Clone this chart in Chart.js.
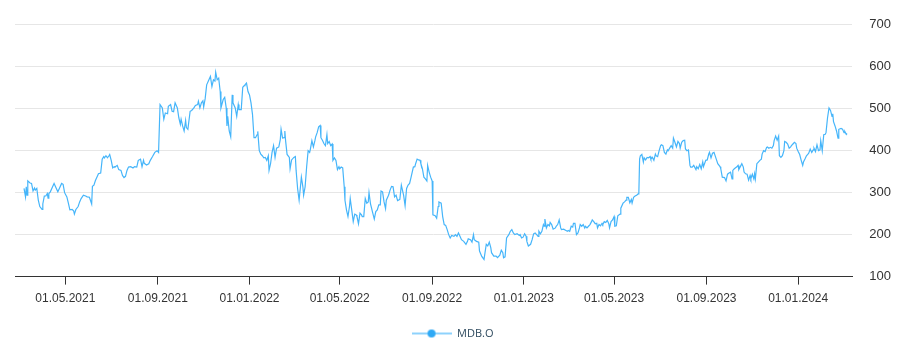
<!DOCTYPE html>
<html>
<head>
<meta charset="utf-8">
<script src="https://cdn.jsdelivr.net/npm/chart.js@4/dist/chart.umd.min.js"></script>
<style>
  html, body { margin: 0; padding: 0; background: #fff; }
  #wrap { width: 912px; height: 352px; }
</style>
</head>
<body>
<div id="wrap"><canvas id="myChart"></canvas></div>
<script>
// MDB.O price, x = days since 01.01.2021
const seriesName = 'MDB.O';

const days = [
  65, 67, 68, 69, 70, 73, 75, 77, 79, 80, 82, 84, 86, 89, 90, 92, 94, 96, 97, 98,
  100, 103, 105, 108, 110, 112, 115, 117, 119, 122, 124, 126, 129, 131, 132, 134, 137, 139, 141, 144,
  147, 149, 152, 155, 156, 158, 160, 163, 164, 167, 169, 171, 172, 174, 176, 178, 179, 181, 183, 185,
  186, 189, 191, 194, 196, 198, 200, 202, 204, 207, 210, 212, 215, 217, 218, 220, 222, 224, 225, 228,
  231, 233, 236, 239,
  242, 244, 246, 249, 251, 253, 256, 257, 260, 262, 264, 266, 269, 271, 273, 274, 276, 278, 280, 281,
  283, 286, 288, 291, 293, 296, 297, 299, 301, 303, 304, 306, 308, 311, 313, 315, 317, 319, 320, 322,
  324, 326, 327, 330, 332, 334, 335, 336, 338, 340, 342, 343, 346, 348, 350, 351, 354, 356, 358, 359,
  361, 363, 365, 367, 369, 371, 373, 375, 376, 378, 380, 382, 384, 386, 388, 390, 391, 393, 395, 397,
  399, 401, 404, 406, 407, 409, 411, 412, 413, 415, 418, 419, 421, 424,
  426, 427, 429, 431, 434, 436, 437, 439, 441, 443, 445, 446, 448, 450, 452, 453, 455, 457, 459, 460,
  462, 464, 466, 468, 469, 471, 473, 475, 476, 478, 480, 482, 484, 485, 487, 489, 491, 492, 494, 496,
  498, 499, 501, 503, 505, 507, 508, 510, 512, 514, 515, 517, 519, 521, 523, 524, 526, 529, 531, 533,
  535, 537, 539, 540, 542, 544, 546, 547, 550, 552, 554, 556, 558, 560, 562, 563, 565, 567, 569, 570,
  572, 574, 576, 578, 580, 583, 585, 586, 588, 590, 592, 593, 595, 597, 599, 601, 602, 604, 606, 608,
  609,
  612, 614, 616, 617, 620, 622, 624, 626, 628, 630, 632, 634, 637, 639, 641, 643, 645, 647, 650, 653,
  655, 656, 659, 661, 663, 664, 667, 670, 671, 674, 677, 678, 680, 682, 684, 686, 687, 690, 693, 695,
  698, 700, 702, 703, 705, 707, 710, 712, 714, 716, 718, 721, 724, 725, 727, 729, 731, 733, 734, 736,
  739, 741, 743, 745, 747, 749, 750, 752, 754, 756, 757, 758, 760, 762, 764, 765, 767, 769, 772, 773,
  775, 777, 779, 780, 783, 786, 788, 789, 791, 793, 795, 796,
  798, 800, 802, 804, 805, 807, 809, 811, 812, 814, 816, 818, 820, 821, 823, 825, 827, 828, 830, 832,
  834, 835, 837, 839, 841, 843, 844, 846, 848, 850, 851, 853, 855, 858, 859, 862, 864, 866, 867, 869,
  871, 873, 874, 876, 878, 880, 882, 883, 884, 885, 887, 889, 890, 892, 894, 896, 898, 899, 901, 903,
  905, 906, 908, 910, 912, 913, 915, 917, 919, 921, 922, 924, 926, 928, 929, 931, 933, 935, 937, 938,
  940, 942, 944, 945, 947, 949, 951, 952, 954, 956, 959, 960, 962, 964, 966, 968, 969, 972, 974, 976,
  977, 979, 981, 983,
  984, 986, 988, 991, 992, 994, 997, 999, 1001, 1003, 1005, 1007, 1008, 1010, 1013, 1015, 1016, 1018, 1020, 1022,
  1023, 1025, 1027, 1029, 1031, 1032, 1034, 1036, 1037, 1038, 1040, 1042, 1044, 1046, 1047, 1049, 1051, 1053, 1054, 1056,
  1058, 1060, 1062, 1063, 1065, 1067, 1069, 1070, 1072, 1074, 1076, 1077, 1079, 1081, 1083, 1085, 1086, 1088, 1090, 1092,
  1093, 1095, 1097, 1099, 1101, 1102, 1104, 1106, 1108, 1109, 1111, 1113, 1115, 1116, 1118, 1120, 1122, 1124, 1125, 1127,
  1129, 1131, 1132, 1134, 1136, 1138, 1140, 1141, 1142, 1144, 1146, 1148, 1149, 1152, 1154, 1156, 1157, 1159, 1160
];

const prices = [
  310, 290, 314, 294, 328, 323, 322, 304, 311, 306, 310, 282, 267, 260, 273, 292, 292, 298, 287, 298,
  302, 314, 322, 310, 302, 310, 322, 320, 300, 290, 275, 259, 260, 257, 249, 260, 267, 278, 286, 294,
  292, 290, 289, 273, 315, 318, 329, 341, 345, 347, 380, 386, 383, 388, 383, 388, 391, 377, 359, 362,
  361, 365, 355, 353, 341, 336, 339, 353, 361, 362, 359, 362, 361, 377, 378, 380, 362, 377, 370, 366,
  369, 377, 386, 396,
  400, 396, 510, 502, 475, 490, 488, 506, 510, 494, 493, 514, 502, 478, 463, 475, 459, 447, 472, 455,
  451, 494, 496, 502, 508, 510, 518, 502, 514, 519, 504, 524, 557, 569, 577, 553, 569, 566, 587, 569,
  573, 541, 502, 522, 527, 502, 459, 482, 447, 433, 533, 514, 502, 482, 510, 498, 498, 551, 555, 557,
  561, 541, 533, 514, 486, 431, 431, 438, 446, 400, 392, 388, 383, 384, 377, 388, 353, 369, 396, 412,
  384, 406, 409, 427, 451, 430, 431, 447, 424, 391, 384, 357, 378, 384,
  386, 353, 310, 282, 337, 314, 294, 314, 361, 400, 396, 404, 424, 409, 424, 433, 443, 457, 460, 431,
  425, 417, 412, 438, 417, 422, 412, 416, 377, 383, 377, 355, 362, 357, 361, 359, 314, 282, 259, 243,
  267, 286, 259, 231, 249, 247, 243, 226, 251, 247, 243, 243, 286, 275, 278, 300, 273, 251, 237, 255,
  259, 271, 271, 304, 302, 278, 262, 282, 294, 306, 315, 314, 290, 294, 281, 282, 284, 318, 302, 294,
  269, 310, 318, 322, 337, 361, 362, 369, 380, 378, 377, 369, 357, 337, 333, 328, 365, 349, 337, 328,
  247,
  245, 239, 267, 278, 275, 243, 224, 222, 212, 200, 192, 198, 196, 200, 196, 204, 196, 188, 184, 177,
  184, 190, 188, 182, 200, 188, 184, 182, 161, 148, 141, 141, 177, 173, 182, 169, 157, 149, 149, 145,
  151, 163, 157, 145, 147, 192, 200, 208, 212, 204, 200, 202, 198, 200, 192, 194, 202, 196, 184, 173,
  177, 188, 202, 204, 200, 196, 208, 202, 208, 224, 220, 237, 216, 224, 221, 229, 224, 213, 216, 220,
  224, 235, 216, 212, 213, 210, 208, 210, 208, 220, 218, 227,
  227, 200, 204, 216, 224, 220, 224, 216, 220, 216, 220, 224, 231, 235, 231, 226, 227, 216, 224, 221,
  227, 224, 231, 229, 234, 226, 216, 231, 235, 243, 220, 221, 245, 249, 263, 275, 278, 282, 289, 289,
  276, 284, 275, 289, 292, 294, 297, 298, 380, 388, 391, 373, 383, 378, 384, 383, 386, 380, 384, 377,
  392, 388, 386, 400, 412, 414, 412, 396, 392, 402, 400, 406, 412, 406, 430, 420, 409, 422, 417, 406,
  420, 424, 425, 404, 400, 402, 365, 361, 361, 365, 355, 362, 357, 367, 357, 373, 362, 377, 378, 392,
  396, 383, 394, 396,
  396, 380, 369, 362, 357, 337, 336, 328, 344, 347, 349, 333, 353, 357, 361, 365, 355, 362, 369, 361,
  349, 345, 344, 330, 341, 333, 344, 333, 345, 333, 369, 373, 377, 380, 392, 400, 398, 408, 409, 406,
  408, 406, 412, 424, 435, 425, 435, 388, 384, 388, 400, 422, 420, 416, 406, 409, 412, 416, 420, 417,
  406, 398, 391, 377, 365, 373, 380, 388, 392, 394, 404, 396, 402, 406, 398, 414, 400, 402, 424, 400,
  438, 439, 443, 478, 502, 496, 482, 488, 469, 459, 447, 430, 451, 453, 451, 443, 446, 439, 441
];

const xTickDays = [120, 243, 365, 485, 608, 730, 850, 973, 1095];
const xTickLabels = ['01.05.2021', '01.09.2021', '01.01.2022', '01.05.2022', '01.09.2022',
  '01.01.2023', '01.05.2023', '01.09.2023', '01.01.2024'];
const yTicks = [100, 200, 300, 400, 500, 600, 700];

const points = days.map((d, i) => ({ x: d, y: prices[i] }));

// legend marker: light line with a dot in the middle
const marker = document.createElement('canvas');
marker.width = 40;
marker.height = 10;
const mctx = marker.getContext('2d');
mctx.strokeStyle = '#8ed2fc';
mctx.lineWidth = 2;
mctx.beginPath();
mctx.moveTo(0, 5);
mctx.lineTo(40, 5);
mctx.stroke();
mctx.fillStyle = '#2fa9f5';
mctx.beginPath();
mctx.arc(20, 5, 4, 0, Math.PI * 2);
mctx.fill();

// legend sits a bit left of the canvas centre in the original
const legendShift = {
  id: 'legendShift',
  afterLayout(chart) {
    chart.legend.left -= 9;
    chart.legend.right -= 9;
  }
};

const ctx = document.getElementById('myChart');

new Chart(ctx, {
  type: 'line',
  data: {
    datasets: [{
      label: seriesName,
      data: points,
      borderColor: '#45b5fa',
      backgroundColor: '#45b5fa',
      borderWidth: 1.2,
      pointRadius: 0,
      pointHoverRadius: 0,
      tension: 0,
      pointStyle: marker
    }]
  },
  plugins: [legendShift],
  options: {
    responsive: true,
    maintainAspectRatio: false,
    animation: false,
    layout: {
      padding: { left: 15, right: 4, top: 11, bottom: 3 }
    },
    plugins: {
      tooltip: { enabled: false },
      legend: {
        position: 'bottom',
        labels: {
          usePointStyle: true,
          pointStyleWidth: 40,
          color: '#2e4a5e',
          font: { family: 'Open Sans', size: 11 },
          padding: 15
        }
      }
    },
    scales: {
      x: {
        type: 'linear',
        min: 53,
        max: 1167,
        afterBuildTicks: (axis) => {
          axis.ticks = xTickDays.map(v => ({ value: v }));
        },
        ticks: {
          autoSkip: false,
          maxRotation: 0,
          color: '#333',
          font: { family: 'Liberation Sans', size: 12 },
          padding: 7,
          callback: (value) => xTickLabels[xTickDays.indexOf(value)]
        },
        grid: {
          drawOnChartArea: false,
          drawTicks: true,
          tickLength: 8,
          color: '#333'
        },
        border: { display: true, color: '#333', width: 1 }
      },
      y: {
        position: 'right',
        min: 100,
        max: 700,
        afterBuildTicks: (axis) => {
          axis.ticks = yTicks.map(v => ({ value: v }));
        },
        ticks: {
          color: '#333',
          font: { family: 'Liberation Sans', size: 13 },
          padding: 17
        },
        grid: {
          color: '#e6e6e6',
          drawTicks: false
        },
        border: { display: false }
      }
    }
  }
});
</script>
</body>
</html>
